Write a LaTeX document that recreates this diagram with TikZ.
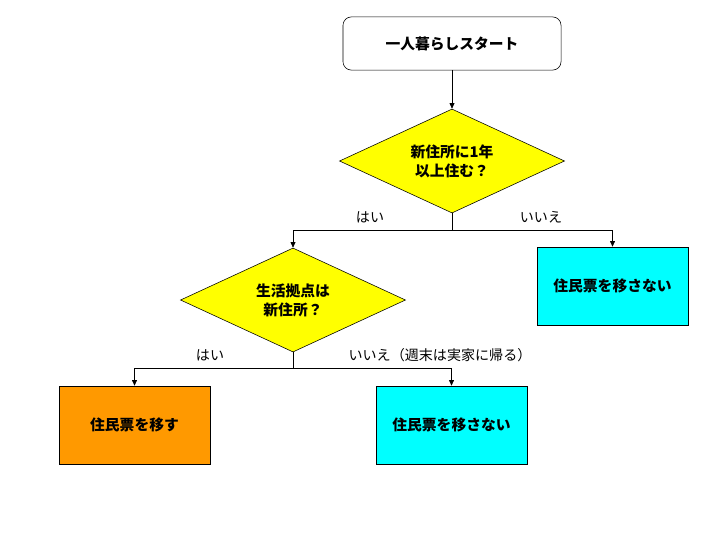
\documentclass[tikz,border=0pt]{standalone}
\usepackage{fontspec}
\setmainfont{Noto Sans CJK JP}
\usepackage{tikz}
\usetikzlibrary{positioning,calc,shapes.geometric,arrows.meta}
\definecolor{boxcyan}{RGB}{0,255,255}
\definecolor{boxorange}{RGB}{255,153,0}
\definecolor{askyellow}{RGB}{255,255,0}
\tikzset{
  startbox/.style={draw, rounded corners=6pt, fill=white, minimum width=5.45cm, minimum height=1.33cm, font=\bfseries\fontsize{10.5}{12}\selectfont},
  askbox/.style={draw, diamond, aspect=2.16, fill=askyellow, minimum width=5.625cm, minimum height=2.6cm, inner sep=0pt, align=center, font=\bfseries\fontsize{10.5}{13.5}\selectfont},
  endbox/.style={draw, minimum width=3.78cm, minimum height=1.95cm, font=\bfseries\fontsize{10.5}{12}\selectfont},
  lbl/.style={font=\fontsize{10}{11}\selectfont},
  arrow/.style={-{Triangle[length=4pt,width=3.5pt]}, line width=0.5pt}
}
\begin{document}
\begin{tikzpicture}[x=0.025cm,y=-0.025cm]
    \useasboundingbox (0,0) rectangle (720,540);
    % Knoten
    \node[startbox] (start) at (452,43.5) {一人暮らしスタート};
    \node[askbox] (q1) at (452,161) {新住所に1年\\以上住む？};
    \node[askbox] (q2) at (293,300) {生活拠点は\\新住所？};
    \node[endbox, fill=boxcyan] (no1) at (612.5,286) {住民票を移さない};
    \node[endbox, fill=boxorange] (yes2) at (134.5,425) {住民票を移す};
    \node[endbox, fill=boxcyan] (no2) at (451.5,425) {住民票を移さない};
    % Verzweigungen
    \coordinate (j1) at (452,230);
    \coordinate (j2) at (293,368);
    \draw[arrow] (start) -- (q1);
    \draw (q1.south) -- (j1);
    \draw[arrow] (j1) -| (q2.north);
    \draw[arrow] (j1) -| (no1.north);
    \draw (q2.south) -- (j2);
    \draw[arrow] (j2) -| (yes2.north);
    \draw[arrow] (j2) -| (no2.north);
    % Beschriftungen
    \node[lbl] (l1) at (370,217) {はい};
    \node[lbl] (l2) at (541,217) {いいえ};
    \node[lbl] (l3) at (210,355) {はい};
    \node[lbl] (l4) at (440,355) {いいえ（週末は実家に帰る）};
\end{tikzpicture}
\end{document}
